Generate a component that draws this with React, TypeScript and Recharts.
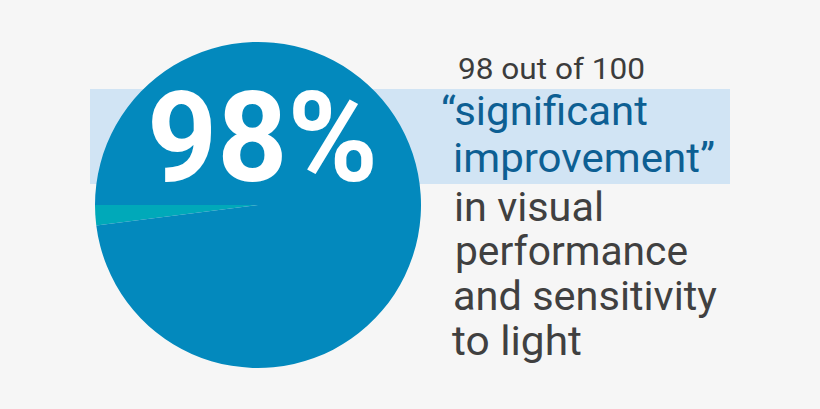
import { PieChart, Pie, Cell } from 'recharts';

const sliceNames = ['no improvement', 'significant improvement'];
const sliceValues = [2, 98];
const sliceColors = ['#00a9b9', '#0389bd'];

const bigLabel = '98%';
const introLine = '98 out of 100';
const quoteLines = ['\u201csignificant', 'improvement\u201d'];
const restLines = ['in visual', 'performance', 'and sensitivity', 'to light'];

const data = sliceNames.map((name, i) => ({ name, value: sliceValues[i] }));

// baselines + widths
const quotePos = [
  { x: 441, y: 125, w: 207 },
  { x: 453, y: 172, w: 262 },
];
const restPos = [
  { x: 454, y: 221, w: 150 },
  { x: 455, y: 265, w: 233 },
  { x: 453, y: 310, w: 264 },
  { x: 452, y: 355, w: 130 },
];

const font = 'Roboto, "Liberation Sans", Arial, sans-serif';

export default function App() {
  return (
    <div style={{ position: 'absolute', left: 0, top: 0, width: 820, height: 409, background: '#f6f6f6', overflow: 'hidden' }}>
      <div style={{ position: 'absolute', left: 90, top: 89, width: 640, height: 95, background: '#d1e4f4' }} />
      <div style={{ position: 'absolute', left: 0, top: 0 }}>
        <PieChart width={820} height={409} margin={{ top: 0, right: 0, bottom: 0, left: 0 }}>
          <Pie
            data={data}
            dataKey="value"
            cx={258}
            cy={205}
            outerRadius={163}
            startAngle={180}
            endAngle={540}
            stroke="none"
            isAnimationActive={false}
          >
            {data.map((entry, index) => (
              <Cell key={`cell-${index}`} fill={sliceColors[index]} />
            ))}
          </Pie>
        </PieChart>
      </div>
      <svg width={820} height={409} style={{ position: 'absolute', left: 0, top: 0 }}>
        <text x={147} y={181} fill="#ffffff" fontFamily={font} fontWeight={700} fontSize={127}
          textLength={231} lengthAdjust="spacingAndGlyphs">{bigLabel}</text>
        <text x={458} y={79} fill="#3c3c3c" fontFamily={font} fontSize={29}
          textLength={187} lengthAdjust="spacingAndGlyphs">{introLine}</text>
        {quoteLines.map((line, i) => (
          <text key={line} x={quotePos[i].x} y={quotePos[i].y} fill="#0d5f93" fontFamily={font} fontSize={41}
            textLength={quotePos[i].w} lengthAdjust="spacingAndGlyphs">{line}</text>
        ))}
        {restLines.map((line, i) => (
          <text key={line} x={restPos[i].x} y={restPos[i].y} fill="#404040" fontFamily={font} fontSize={41}
            textLength={restPos[i].w} lengthAdjust="spacingAndGlyphs">{line}</text>
        ))}
      </svg>
    </div>
  );
}
